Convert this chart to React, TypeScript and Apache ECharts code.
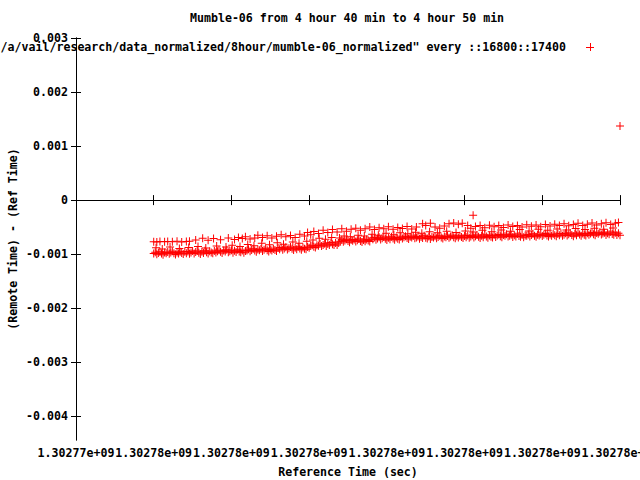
import React, { useEffect, useRef } from "react";
import * as echarts from "echarts";

const titleText = "Mumble-06 from 4 hour 40 min to 4 hour 50 min";
const keyText = '/a/vail/research/data_normalized/8hour/mumble-06_normalized" every ::16800::17400';
const xAxisName = "Reference Time (sec)";
const yAxisName = "(Remote Time) - (Ref Time)";

const xTickLabels = [
  "1.30277e+09", "1.30278e+09", "1.30278e+09", "1.30278e+09",
  "1.30278e+09", "1.30278e+09", "1.30278e+09", "1.30278e+09",
];
const yTickValues = [-0.004, -0.003, -0.002, -0.001, 0, 0.001, 0.002, 0.003];
const yTickLabels = ["-0.004", "-0.003", "-0.002", "-0.001", "0", "0.001", "0.002", "0.003"];

// dense lower band: seconds offset from LOWER_START every LOWER_STEP s, values in microseconds
const LOWER_START = 100;
const LOWER_STEP = 2;
const lowerBandUs = [
  -990, -965, -1002, -978, -955, -988, -1010, -970, -983, -960, -995, -972, -948, -985, -1005, -968, -990, -958, -980, -997,
  -957, -982, -950, -992, -970, -944, -987, -962, -940, -974, -997, -954, -980, -937, -967, -990, -948, -972, -984, -942,
  -970, -945, -927, -957, -977, -935, -950, -921, -963, -947, -930, -973, -939, -960, -917, -953, -967, -933, -975, -942,
  -935, -910, -947, -923, -900, -933, -955, -915, -928, -905, -940, -917, -893, -930, -950, -913, -935, -903, -925, -942,
  -885, -910, -878, -920, -898, -872, -915, -890, -868, -902, -925, -882, -908, -865, -895, -918, -876, -900, -912, -870,
  -880, -850, -835, -862, -878, -835, -845, -812, -850, -830, -810, -850, -812, -830, -785, -818, -830, -792, -832, -795,
  -760, -735, -772, -748, -725, -758, -780, -740, -753, -730, -765, -742, -718, -755, -775, -738, -760, -728, -750, -767,
  -700, -725, -693, -735, -713, -687, -730, -705, -683, -717, -740, -697, -723, -680, -710, -733, -691, -715, -727, -685,
  -713, -688, -670, -700, -720, -678, -693, -664, -706, -690, -673, -716, -682, -703, -660, -696, -710, -676, -718, -685,
  -693, -668, -705, -681, -658, -691, -713, -673, -686, -663, -698, -675, -651, -688, -708, -671, -693, -661, -683, -700,
  -663, -688, -656, -698, -676, -650, -693, -668, -646, -680, -703, -660, -686, -643, -673, -696, -654, -678, -690, -648,
  -682, -657, -639, -669, -689, -647, -662, -633, -675, -659, -642, -685, -651, -672, -629, -665, -679, -645, -687, -654,
  -660, -635, -672, -648, -625, -658, -680, -640, -653, -630, -665, -642, -618, -655, -675, -638, -660, -628, -650, -667,
  -627, -652, -620, -662, -640, -614, -657, -632, -610, -644, -667, -624, -650, -607, -637, -660, -618, -642, -654, -612,
  -643, -618, -600, -630, -650, -608, -623, -594, -636, -620, -603, -646, -612, -633, -590, -626, -640, -606, -648, -615,
];

// sparse upper row: [seconds, microseconds]
const upperRowUs: [number, number][] = [
  [100, -770], [104, -775], [108, -768], [114, -772], [118, -765], [124, -770], [130, -762], [136, -775], [142, -768], [146, -760],
  [154, -740], [163, -705], [170, -745], [177, -710], [186, -735], [196, -700], [204, -730], [209, -690], [214, -712], [218, -680], [224, -720], [230, -700],
  [234, -650], [240, -690], [246, -660], [252, -700], [258, -670], [264, -640], [270, -680], [276, -655], [282, -690], [288, -630], [294, -665], [298, -600],
  [302, -640], [306, -580], [312, -620], [318, -560], [324, -600], [330, -545], [336, -590], [342, -530], [348, -575], [354, -540], [360, -520], [366, -560],
  [372, -530], [378, -500], [384, -545], [390, -510], [396, -530], [402, -495], [408, -540], [414, -505], [420, -525], [426, -490], [432, -535], [438, -500],
  [446, -440], [450, -470], [456, -430], [462, -500], [468, -520], [474, -480], [480, -440], [486, -425], [492, -445], [497, -430],
  [504, -470], [508, -520], [514, -490], [520, -470], [526, -510], [532, -465], [538, -495], [544, -470], [550, -505], [556, -460],
  [562, -490], [568, -470], [574, -500], [580, -455], [586, -485], [592, -460], [598, -495], [604, -450], [610, -480], [616, -445],
  [622, -470], [628, -440], [634, -475], [640, -450], [646, -430], [652, -470], [658, -445], [664, -425], [670, -460], [676, -440],
  [682, -420], [688, -450], [694, -430], [698, -415],
];

// scattered points between the two rows: [seconds, microseconds]
const middleRowUs: [number, number][] = [
  [103, -880], [111, -905], [121, -870], [133, -895], [145, -875], [157, -860], [167, -885], [181, -850], [193, -870], [201, -835],
  [211, -860], [221, -820], [229, -845], [239, -800], [249, -825], [259, -790], [267, -815], [279, -775], [287, -800], [297, -760],
  [305, -740], [313, -705], [321, -725], [329, -690], [339, -700], [345, -665], [353, -680], [363, -650], [371, -665], [381, -630],
  [389, -650], [399, -615], [409, -640], [417, -605], [427, -625], [437, -595], [445, -615], [455, -585], [465, -605], [477, -575],
  [489, -600], [501, -570], [511, -590], [523, -560], [535, -585], [547, -555], [559, -575], [571, -545], [583, -570], [595, -540],
  [607, -560], [619, -535], [631, -555], [643, -525], [655, -545], [667, -520], [679, -540], [691, -515],
];

const outliersUs: [number, number][] = [[511, -280], [700, 1370], [700, -650]];

const FONT = "'DejaVu Sans Mono', 'Liberation Mono', monospace";
const FS = 11.6;
const PLUS = "path://M0,3.5h8v1h-8zM3.5,0h1v8h-1z";

export default function App() {
  const ref = useRef<HTMLDivElement>(null);
  useEffect(() => {
    if (!ref.current) return;
    const chart = echarts.init(ref.current, undefined, { renderer: "svg" });
    const data: [number, number][] = [];
    lowerBandUs.forEach((v, i) => data.push([LOWER_START + i * LOWER_STEP, v * 1e-6]));
    middleRowUs.forEach(([x, v]) => data.push([x, v * 1e-6]));
    upperRowUs.forEach(([x, v]) => data.push([x, v * 1e-6]));
    outliersUs.forEach(([x, v]) => data.push([x, v * 1e-6]));

    const textStyle = { fontFamily: FONT, fontSize: FS, fontWeight: "bold" as const, color: "#000" };
    const lineStyle = { color: "#000", width: 1 };
    const yFmt = (v: number) => {
      const i = yTickValues.findIndex((t) => Math.abs(t - v) < 1e-9);
      return i >= 0 ? yTickLabels[i] : "";
    };

    chart.setOption({
      animation: false,
      backgroundColor: "#fff",
      title: {
        text: titleText,
        left: 190,
        top: 12,
        padding: 0,
        textStyle: { ...textStyle },
      },
      grid: { left: 76, right: 20, top: 38, bottom: 40, containLabel: false, outerBoundsMode: "none" },
      xAxis: [
        {
          type: "value",
          min: 0,
          max: 700,
          interval: 100,
          position: "bottom",
          axisLine: { show: true, lineStyle },
          axisTick: { show: true, inside: true, length: 5, lineStyle },
          splitLine: { show: false },
          axisLabel: {
            ...textStyle,
            margin: 7,
            hideOverlap: false,
            showMinLabel: true,
            showMaxLabel: true,
            formatter: (v: number) => xTickLabels[Math.round(v / 100)] ?? "",
          },
          name: xAxisName,
          nameLocation: "middle",
          nameGap: 26,
          nameTextStyle: { ...textStyle },
        },
        {
          type: "value",
          min: 0,
          max: 700,
          interval: 100,
          position: "top",
          axisLine: { show: true, lineStyle },
          axisTick: { show: true, inside: true, length: 5, lineStyle },
          splitLine: { show: false },
          axisLabel: { show: false },
        },
      ],
      yAxis: [
        {
          type: "value",
          min: -0.00444,
          max: 0.003,
          position: "left",
          axisLine: { show: true, lineStyle },
          axisTick: { show: true, inside: true, length: 5, lineStyle, customValues: yTickValues },
          splitLine: { show: false },
          axisLabel: { ...textStyle, margin: 8, hideOverlap: false, customValues: yTickValues, formatter: yFmt },
        },
        {
          type: "value",
          min: -0.00444,
          max: 0.003,
          position: "right",
          axisLine: { show: true, lineStyle },
          axisTick: { show: true, inside: true, length: 5, lineStyle, customValues: yTickValues },
          splitLine: { show: false },
          axisLabel: { show: false, customValues: yTickValues },
        },
      ],
      graphic: [
        {
          type: "text",
          x: 13,
          y: 239,
          rotation: Math.PI / 2,
          style: { text: yAxisName, align: "center", verticalAlign: "middle", font: `bold ${FS}px ${FONT}`, fill: "#000" },
        },
        {
          type: "text",
          x: 566,
          y: 47,
          style: { text: keyText, align: "right", verticalAlign: "middle", font: `bold ${FS}px ${FONT}`, fill: "#000" },
        },
        { type: "line", shape: { x1: 586, y1: 47.5, x2: 594, y2: 47.5 }, style: { stroke: "#ff0000", lineWidth: 1 } },
        { type: "line", shape: { x1: 590.5, y1: 43, x2: 590.5, y2: 51 }, style: { stroke: "#ff0000", lineWidth: 1 } },
      ],
      series: [
        {
          type: "scatter",
          xAxisIndex: 0,
          yAxisIndex: 0,
          data,
          symbol: PLUS,
          symbolSize: 8,
          clip: false,
          itemStyle: { color: "#ff0000", opacity: 1 },
          emphasis: { disabled: true },
        },
      ],
    });
    return () => chart.dispose();
  }, []);
  return <div ref={ref} style={{ position: "fixed", left: 0, top: 0, width: 640, height: 480 }} />;
}
